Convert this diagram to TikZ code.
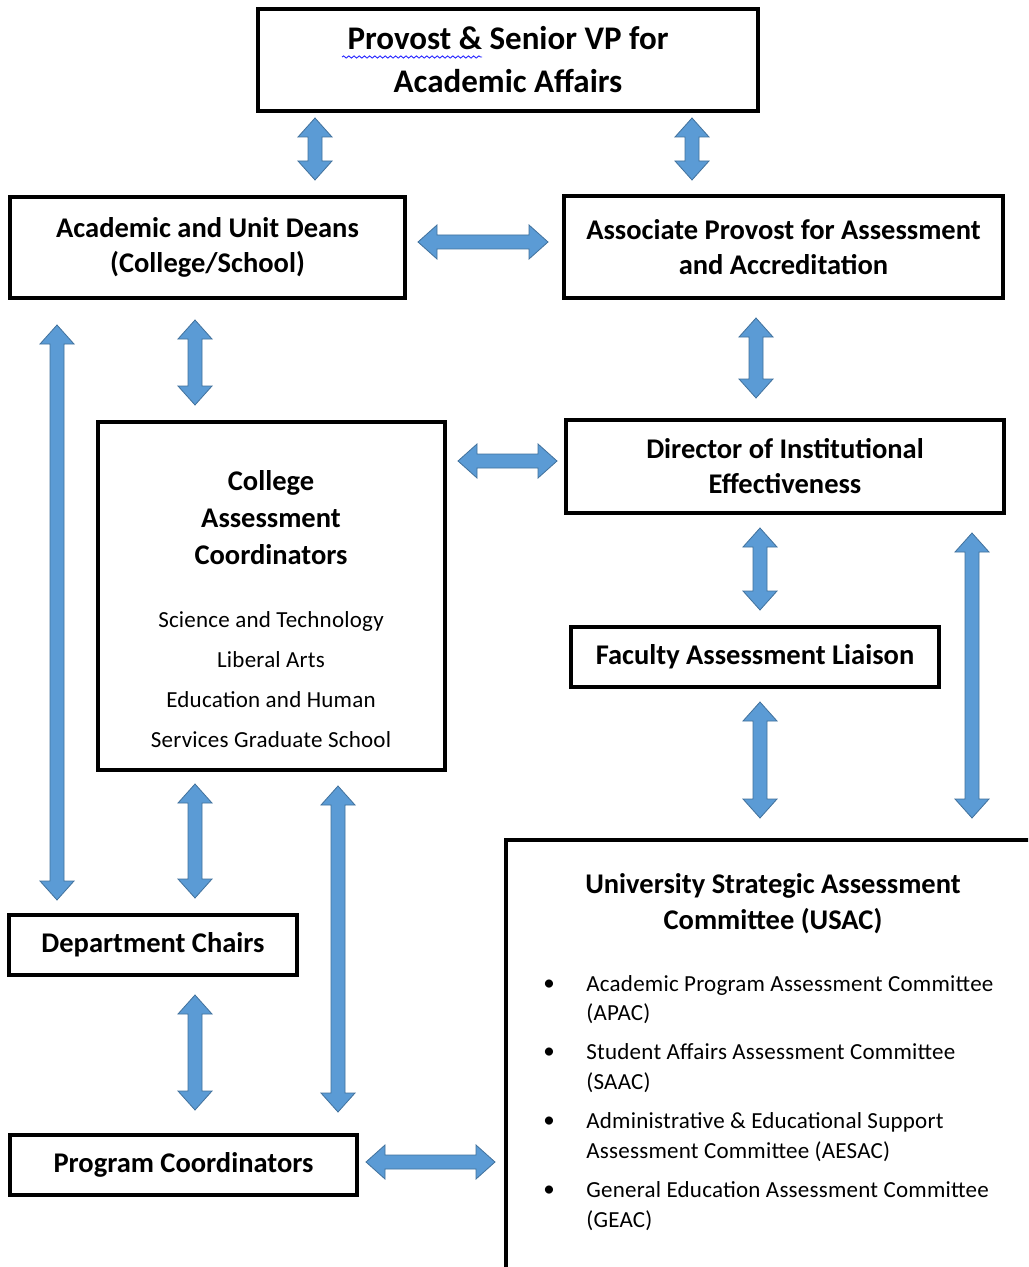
\documentclass[tikz,border=0pt]{standalone}
\usepackage{fontspec}
\setmainfont{Carlito}
\usetikzlibrary{calc,decorations.pathmorphing}
\definecolor{arrfill}{HTML}{5B9BD5}
\definecolor{arredge}{HTML}{41719C}
\tikzset{
  box/.style={draw=black, line width=1.6pt, fill=white, inner sep=0pt, align=center},
  ttl/.style={font=\fontsize{14.25}{17.5}\selectfont\bfseries},
  sml/.style={font=\fontsize{11.5}{20}\selectfont\addfontfeature{LetterSpace=1}},
  itm/.style={anchor=west, align=left, inner sep=0pt, font=\fontsize{11.5}{14.75}\selectfont\addfontfeature{LetterSpace=1}},
  bul/.style={inner sep=0pt, font=\fontsize{11.5}{14}\selectfont},
  dbl/.style={fill=arrfill, draw=arredge, line width=0.4pt, line join=miter,
    to path={
      -- ($(\tikztostart)!9.5pt!(\tikztotarget)!8.5pt!90:(\tikztotarget)$)
      -- ($(\tikztostart)!9.5pt!(\tikztotarget)!3.5pt!90:(\tikztotarget)$)
      -- ($(\tikztotarget)!9.5pt!(\tikztostart)!3.5pt!-90:(\tikztostart)$)
      -- ($(\tikztotarget)!9.5pt!(\tikztostart)!8.5pt!-90:(\tikztostart)$)
      -- (\tikztotarget)
      -- ($(\tikztotarget)!9.5pt!(\tikztostart)!8.5pt!90:(\tikztostart)$)
      -- ($(\tikztotarget)!9.5pt!(\tikztostart)!3.5pt!90:(\tikztostart)$)
      -- ($(\tikztostart)!9.5pt!(\tikztotarget)!3.5pt!-90:(\tikztotarget)$)
      -- ($(\tikztostart)!9.5pt!(\tikztotarget)!8.5pt!-90:(\tikztotarget)$)
      -- cycle}}
}
\begin{document}
\begin{tikzpicture}[x=0.5pt,y=-0.5pt]
\fill[white] (0,0) rectangle (1028,1267);
\useasboundingbox (0,0) rectangle (1028,1267);

% boxes
\node[box, minimum width=250pt, minimum height=51pt,
      font=\fontsize{16.5}{21.5}\selectfont\bfseries] (provost) at (508,60)
      {Provost \& Senior VP for\\Academic Affairs};
\node[box, ttl, minimum width=197.5pt, minimum height=50.5pt] (deans) at (207.5,247.5)
      {Academic and Unit Deans\\(College/School)};
\node[box, ttl, minimum width=219.5pt, minimum height=51pt] (assoc) at (783.5,247)
      {Associate Provost for Assessment\\and Accreditation};
\node[box, minimum width=173.5pt, minimum height=174pt] (cac) at (271.5,596) {};
\node[ttl, align=center, inner sep=0pt, font=\fontsize{14.25}{18.5}\selectfont\bfseries] (cactitle) at (271,518)
      {College\\Assessment\\Coordinators};
\node[sml, align=center, inner sep=0pt] (caclist) at (271,679.5)
      {Science and Technology\\Liberal Arts\\Education and Human\\Services Graduate School};
\node[box, ttl, minimum width=219pt, minimum height=46.5pt] (dir) at (785,466.5)
      {Director of Institutional\\Effectiveness};
\node[box, ttl, minimum width=184pt, minimum height=30pt] (fal) at (755,657)
      {Faculty Assessment Liaison};
\node[box, ttl, minimum width=144pt, minimum height=30pt] (chairs) at (153,945)
      {Department Chairs};
\node[box, ttl, minimum width=173.5pt, minimum height=30pt] (prog) at (183.5,1165)
      {Program Coordinators};
\begin{scope}
  \clip (0,0) rectangle (1028,1267);
  \node[box, minimum width=277pt, minimum height=230pt] (usac) at (783,1070) {};
\end{scope}
\node[ttl, align=center, inner sep=0pt, font=\fontsize{14.25}{18}\selectfont\bfseries] (usactitle) at (773,904)
      {University Strategic Assessment\\Committee (USAC)};
\node[bul] (b1) at (549,985) {•};
\node[bul] (b2) at (549,1053) {•};
\node[bul] (b3) at (549,1122) {•};
\node[bul] (b4) at (549,1191) {•};
\node[itm] (i1) at (586,999.5) {Academic Program Assessment Committee\\(APAC)};
\node[itm] (i2) at (586,1068) {Student Affairs Assessment Committee\\(SAAC)};
\node[itm] (i3) at (586,1137) {Administrative \& Educational Support\\Assessment Committee (AESAC)};
\node[itm] (i4) at (586,1206) {General Education Assessment Committee\\(GEAC)};

% spell-check squiggle under "Provost &"
\draw[blue!85!white, line width=0.45pt, decorate,
      decoration={snake, amplitude=0.55pt, segment length=2.6pt}] (342,57) -- (482,57);

% arrow end points
\coordinate (a1s) at (315,118);  \coordinate (a1e) at (315,180);
\coordinate (a2s) at (692,118);  \coordinate (a2e) at (692,180);
\coordinate (a3s) at (418,242);  \coordinate (a3e) at (548,242);
\coordinate (a4s) at (57,325);   \coordinate (a4e) at (57,900);
\coordinate (a5s) at (195,320);  \coordinate (a5e) at (195,405);
\coordinate (a6s) at (756,318);  \coordinate (a6e) at (756,398);
\coordinate (a7s) at (458,461);  \coordinate (a7e) at (557,461);
\coordinate (a8s) at (760,528);  \coordinate (a8e) at (760,610);
\coordinate (a9s) at (972,533);  \coordinate (a9e) at (972,818);
\coordinate (a10s) at (760,702); \coordinate (a10e) at (760,818);
\coordinate (a11s) at (195,784); \coordinate (a11e) at (195,898);
\coordinate (a12s) at (338,786); \coordinate (a12e) at (338,1112);
\coordinate (a13s) at (195,995); \coordinate (a13e) at (195,1110);
\coordinate (a14s) at (366,1162); \coordinate (a14e) at (495,1162);

\foreach \n in {1,...,14} { \draw[dbl] (a\n s) to (a\n e); }
\end{tikzpicture}
\end{document}
